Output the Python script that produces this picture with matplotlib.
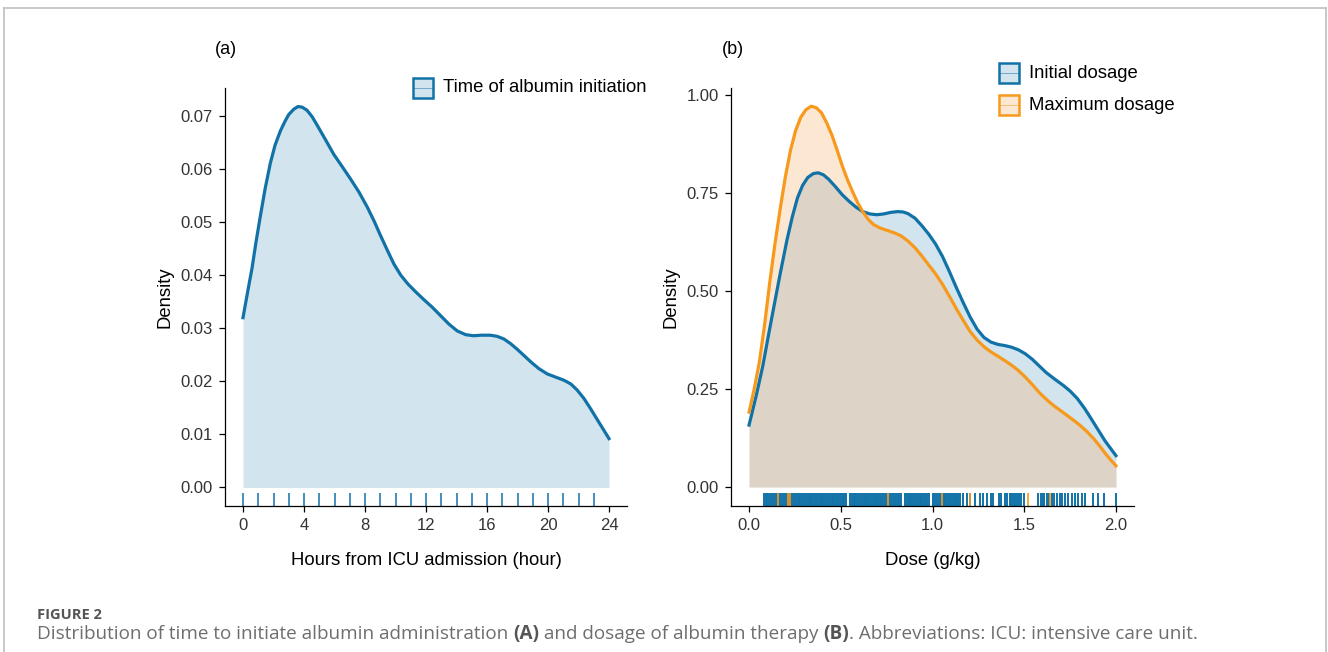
import matplotlib
matplotlib.use('Agg')
import matplotlib.pyplot as plt
from matplotlib.patches import Rectangle
from matplotlib.lines import Line2D

W, H = 1328, 652

# panel (a): density of time to albumin initiation
hours = [0, 0.3, 0.59, 0.85, 1.14, 1.45, 1.79, 2.1, 2.45, 2.75, 3.0, 3.33, 3.6,
         3.87, 4.2, 4.53, 4.86, 5.4, 5.95, 6.5, 7.04, 7.6, 8.14, 8.6, 9.0, 9.45,
         9.9, 10.35, 10.8, 11.35, 11.9, 12.4, 12.95, 13.5, 14.05, 14.6, 15.1,
         15.65, 16.2, 16.65, 17.1, 17.55, 18.0, 18.45, 18.9, 19.4, 19.95, 20.5,
         21.05, 21.5, 21.9, 22.35, 22.8, 23.4, 24]
dens_time = [0.0320, 0.0368, 0.0413, 0.0462, 0.0512, 0.0563, 0.0611, 0.0645,
             0.0672, 0.0690, 0.0703, 0.0713, 0.0718, 0.0717, 0.0711, 0.0699,
             0.0683, 0.0656, 0.0628, 0.0605, 0.0582, 0.0557, 0.0529, 0.0502,
             0.0476, 0.0448, 0.0421, 0.0400, 0.0384, 0.0368, 0.0353, 0.0340,
             0.0324, 0.0308, 0.0295, 0.0288, 0.0286, 0.0287, 0.0287, 0.0285,
             0.0280, 0.0271, 0.0260, 0.0248, 0.0236, 0.0224, 0.0214, 0.0208,
             0.0202, 0.0195, 0.0184, 0.0168, 0.0148, 0.0120, 0.0092]
rug_hours = list(range(0, 24))
hour_ticks = [0, 4, 8, 12, 16, 20, 24]
time_yticks = [0.00, 0.01, 0.02, 0.03, 0.04, 0.05, 0.06, 0.07]

# panel (b): dose densities
dose_init = [0.0, 0.04, 0.075, 0.105, 0.132, 0.17, 0.207, 0.236, 0.264, 0.292,
             0.32, 0.35, 0.377, 0.405, 0.433, 0.47, 0.508, 0.546, 0.584, 0.62,
             0.659, 0.696, 0.734, 0.772, 0.81, 0.84, 0.866, 0.905, 0.942, 0.98,
             1.017, 1.055, 1.092, 1.13, 1.168, 1.205, 1.243, 1.28, 1.318, 1.356,
             1.394, 1.43, 1.469, 1.506, 1.544, 1.582, 1.62, 1.667, 1.714, 1.75,
             1.789, 1.83, 1.864, 1.90, 1.94, 1.97, 2.0]
dens_init = [0.158, 0.235, 0.309, 0.385, 0.452, 0.545, 0.631, 0.690, 0.738,
             0.770, 0.790, 0.800, 0.802, 0.797, 0.786, 0.767, 0.746, 0.729,
             0.714, 0.703, 0.697, 0.695, 0.697, 0.701, 0.703, 0.702, 0.698,
             0.686, 0.667, 0.645, 0.620, 0.588, 0.550, 0.509, 0.470, 0.434,
             0.403, 0.382, 0.370, 0.364, 0.361, 0.357, 0.350, 0.340, 0.326,
             0.309, 0.292, 0.275, 0.259, 0.245, 0.226, 0.200, 0.175, 0.148,
             0.118, 0.099, 0.080]
dose_max = [0.0, 0.028, 0.056, 0.085, 0.113, 0.141, 0.170, 0.198, 0.226, 0.254,
            0.282, 0.31, 0.339, 0.367, 0.395, 0.423, 0.452, 0.48, 0.508, 0.536,
            0.565, 0.593, 0.621, 0.65, 0.678, 0.715, 0.753, 0.79, 0.829, 0.866,
            0.904, 0.94, 0.979, 1.017, 1.055, 1.092, 1.130, 1.168, 1.205, 1.243,
            1.281, 1.318, 1.356, 1.393, 1.431, 1.469, 1.507, 1.545, 1.582, 1.62,
            1.657, 1.695, 1.733, 1.77, 1.808, 1.845, 1.883, 1.912, 1.94, 1.97,
            2.0]
dens_max = [0.191, 0.250, 0.318, 0.415, 0.523, 0.620, 0.711, 0.792, 0.860,
            0.910, 0.944, 0.963, 0.972, 0.968, 0.955, 0.930, 0.898, 0.860,
            0.820, 0.785, 0.753, 0.725, 0.702, 0.683, 0.670, 0.661, 0.655,
            0.649, 0.641, 0.628, 0.611, 0.591, 0.567, 0.544, 0.517, 0.487,
            0.455, 0.425, 0.397, 0.375, 0.358, 0.345, 0.334, 0.323, 0.311,
            0.297, 0.280, 0.261, 0.241, 0.224, 0.209, 0.196, 0.183, 0.170,
            0.156, 0.140, 0.121, 0.104, 0.087, 0.070, 0.054]

rug_init = [0.08, 0.09, 0.10, 0.11, 0.12, 0.13, 0.14, 0.15, 0.16, 0.17, 0.18,
            0.19, 0.20, 0.21, 0.22, 0.23, 0.24, 0.25, 0.26, 0.27, 0.28, 0.29,
            0.30, 0.31, 0.32, 0.33, 0.34, 0.35, 0.36, 0.37, 0.38, 0.39, 0.40,
            0.41, 0.42, 0.43, 0.44, 0.45, 0.46, 0.47, 0.48, 0.49, 0.50, 0.51,
            0.52, 0.53, 0.55, 0.56, 0.57, 0.58, 0.59, 0.60, 0.61, 0.62, 0.63,
            0.64, 0.65, 0.66, 0.67, 0.68, 0.69, 0.70, 0.71, 0.72, 0.73, 0.74,
            0.75, 0.76, 0.77, 0.78, 0.79, 0.80, 0.81, 0.82, 0.83, 0.85, 0.86,
            0.87, 0.88, 0.89, 0.90, 0.91, 0.92, 0.93, 0.94, 0.95, 0.96, 0.97,
            0.98, 1.00, 1.01, 1.02, 1.03, 1.04, 1.05, 1.06, 1.07, 1.08, 1.09,
            1.10, 1.11, 1.12, 1.13, 1.14, 1.15, 1.165, 1.186, 1.204, 1.232,
            1.259, 1.277, 1.295, 1.317, 1.331, 1.36, 1.375, 1.395, 1.408,
            1.422, 1.43, 1.44, 1.45, 1.46, 1.47, 1.48, 1.50, 1.577, 1.59, 1.60,
            1.61, 1.625, 1.635, 1.65, 1.664, 1.678, 1.693, 1.708, 1.722, 1.737,
            1.759, 1.777, 1.795, 1.813, 1.831, 1.876, 1.904, 1.936, 2.0]
rug_max = [0.16, 0.215, 0.225, 0.76, 1.053, 1.204, 1.519, 1.64]
dose_ticks = [0.0, 0.5, 1.0, 1.5, 2.0]
dose_yticks = [0.00, 0.25, 0.50, 0.75, 1.00]

BLUE = '#1172A8'
ORANGE = '#F7991C'
plt.rcParams['font.family'] = ['Liberation Sans', 'DejaVu Sans']

fig = plt.figure(figsize=(13.28, 6.52), dpi=100)


def add_ax(left, right, top, bottom):
    return fig.add_axes([left / W, 1 - bottom / H, (right - left) / W, (bottom - top) / H])


def style(ax):
    for s in ['top', 'right']:
        ax.spines[s].set_visible(False)
    for s in ['left', 'bottom']:
        ax.spines[s].set_linewidth(0.9)
        ax.spines[s].set_color('black')
    ax.tick_params(length=4.5, width=0.9, color='black', labelsize=12,
                   labelcolor='#333333', pad=4)
    ax.set_facecolor('none')


ax_a = add_ax(224.7, 627.3, 88, 506)
ax_b = add_ax(730.7, 1134.3, 88, 506)

# (a)
ax_a.fill_between(hours, dens_time, 0, color=BLUE, alpha=0.19, lw=0)
ax_a.plot(hours, dens_time, color=BLUE, lw=2.3, solid_joinstyle='round')
ax_a.vlines(rug_hours, 0, 0.03, transform=ax_a.get_xaxis_transform(), color=BLUE, lw=1.1)
ax_a.set_xlim(-1.2, 25.2)
ax_a.set_ylim(-0.0035, 0.0753)
ax_a.set_xticks(hour_ticks)
ax_a.set_yticks(time_yticks)
ax_a.set_yticklabels([f'{v:.2f}' for v in time_yticks])
style(ax_a)
ax_a.set_xlabel('Hours from ICU admission (hour)', fontsize=13.3)
ax_a.set_ylabel('Density', fontsize=13.3)
ax_a.xaxis.set_label_coords(0.5, -0.11)
ax_a.yaxis.set_label_coords(-0.128, 0.5)

# (b)
ax_b.fill_between(dose_init, dens_init, 0, color=BLUE, alpha=0.19, lw=0)
ax_b.fill_between(dose_max, dens_max, 0, color='#F8B070', alpha=0.3, lw=0)
ax_b.plot(dose_init, dens_init, color=BLUE, lw=2.3, solid_joinstyle='round')
ax_b.plot(dose_max, dens_max, color=ORANGE, lw=2.3, solid_joinstyle='round')
ax_b.vlines(rug_init, 0, 0.03, transform=ax_b.get_xaxis_transform(), color=BLUE, lw=1.4)
ax_b.vlines(rug_max, 0, 0.03, transform=ax_b.get_xaxis_transform(), color=ORANGE, lw=1.2)
ax_b.set_xlim(-0.1, 2.1)
ax_b.set_ylim(-0.0485, 1.0185)
ax_b.set_xticks(dose_ticks)
ax_b.set_xticklabels([f'{v:.1f}' for v in dose_ticks])
ax_b.set_yticks(dose_yticks)
ax_b.set_yticklabels([f'{v:.2f}' for v in dose_yticks])
style(ax_b)
ax_b.set_xlabel('Dose (g/kg)', fontsize=13.3)
ax_b.set_ylabel('Density', fontsize=13.3)
ax_b.xaxis.set_label_coords(0.5, -0.11)
ax_b.yaxis.set_label_coords(-0.128, 0.5)

# panel tags
fig.text(226 / W, 1 - 50 / H, '(a)', fontsize=13, ha='center', va='center')
fig.text(733 / W, 1 - 50 / H, '(b)', fontsize=13, ha='center', va='center')


def key(x, y, fill_c, fill_a, line_c, label):
    s = 20
    fig.patches.append(Rectangle((x / W, 1 - (y + s) / H), s / W, s / H,
                                 transform=fig.transFigure, facecolor=fill_c,
                                 alpha=fill_a, edgecolor='none'))
    fig.patches.append(Rectangle((x / W, 1 - (y + s) / H), s / W, s / H,
                                 transform=fig.transFigure, facecolor='none',
                                 edgecolor=line_c, lw=1.8))
    fig.lines.append(Line2D([x / W, (x + s) / W], [1 - (y + s / 2) / H] * 2,
                            transform=fig.transFigure, color=line_c, lw=0.6, alpha=0.6))
    fig.text((x + 30) / W, 1 - (y + s / 2) / H, label, fontsize=13.3, va='center')


key(413, 78, BLUE, 0.19, BLUE, 'Time of albumin initiation')
key(999, 63, BLUE, 0.19, BLUE, 'Initial dosage')
key(999, 95, '#F8B070', 0.3, ORANGE, 'Maximum dosage')

# outer frame
for xs, ys in [([4, 4], [652, 8]), ([4, 1326], [8, 8]), ([1326, 1326], [8, 652])]:
    fig.lines.append(Line2D([v / W for v in xs], [1 - v / H for v in ys],
                            transform=fig.transFigure, color='#c4c4c4', lw=1.3))

# caption
fig.text(37 / W, 1 - 615 / H, 'FIGURE 2', fontsize=10.5, fontweight='bold',
         family=['Open Sans', 'DejaVu Sans'], color='#555555', va='center')

renderer = fig.canvas.get_renderer()


def text_w(s, **kw):
    t1 = fig.text(0, 0, s + 'l', **kw)
    t2 = fig.text(0, 0, 'l', **kw)
    w = t1.get_window_extent(renderer).width - t2.get_window_extent(renderer).width
    t1.remove()
    t2.remove()
    return w


pieces = [('Distribution of time to initiate albumin administration ', 'normal'),
          ('(A)', 'bold'),
          (' and dosage of albumin therapy ', 'normal'),
          ('(B)', 'bold'),
          ('. Abbreviations: ICU: intensive care unit.', 'normal')]


def cap_kw(wgt, size):
    return dict(fontsize=size, fontweight=wgt, family=['Open Sans', 'DejaVu Sans'],
                color='#555555' if wgt == 'bold' else '#6e6e6e')


# size the caption so it spans the same width as in the figure
base = 11.0
total = sum(text_w(s, **cap_kw(w, base)) for s, w in pieces)
size = base * (1200 - 37) / total
x = 37.0
for s, wgt in pieces:
    kw = cap_kw(wgt, size)
    fig.text(x / W, 1 - 634 / H, s, va='center', **kw)
    x += text_w(s, **kw)

fig.savefig('out.png', dpi=100)
